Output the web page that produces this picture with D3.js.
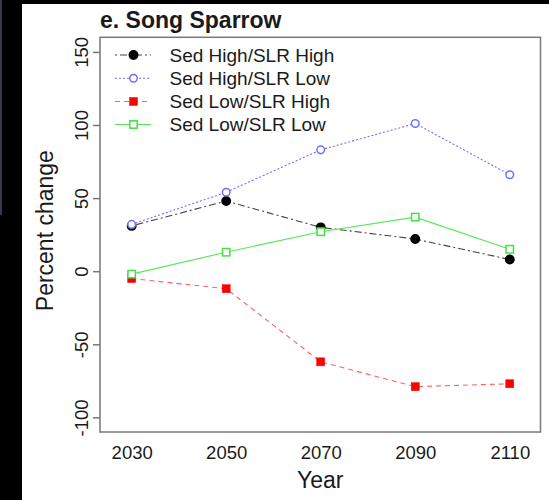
<!DOCTYPE html>
<html><head><meta charset="utf-8">
<script src="https://cdn.jsdelivr.net/npm/d3@7"></script>
<style>body{margin:0;background:#000;}svg{display:block;}text{font-family:"Liberation Sans",Arial,sans-serif;fill:#1a1a1a;}</style>
</head><body>
<script>
const years = [2030, 2050, 2070, 2090, 2110];
const seriesNames = ["Sed High/SLR High", "Sed High/SLR Low", "Sed Low/SLR High", "Sed Low/SLR Low"];
const sedHighSlrHigh = [31, 48, 30, 22, 8];
const sedHighSlrLow = [32, 54, 83, 101, 66];
const sedLowSlrHigh = [-5, -12, -62, -79, -77];
const sedLowSlrLow = [-2, 13, 27, 37, 15];
const yTicks = [-100, -50, 0, 50, 100, 150];
const titleText = "e. Song Sparrow";

(function () {
const W = 549, H = 500;
const svg = d3.select("body").append("svg").attr("width", W).attr("height", H);
svg.append("rect").attr("width", W).attr("height", H).attr("fill", "#000");
svg.append("rect").attr("x", 0).attr("y", 0).attr("width", 2).attr("height", 215).attr("fill", "#3c3550");
svg.append("rect").attr("x", 22).attr("y", 4).attr("width", W - 22).attr("height", H - 4).attr("fill", "#fff");

const pL = 100, pR = 540.5, pT = 37.3, pB = 432;
const x = d3.scaleLinear().domain([2023.3, 2116.5]).range([pL, pR]);
const y = d3.scaleLinear().domain([-110, 160]).range([pB, pT]);

const styles = [
  {data: sedHighSlrHigh, line: "#444", dash: "2,3,7,3", sym: "circle", fill: "#000", stroke: "#000"},
  {data: sedHighSlrLow, line: "#6f6fff", dash: "2,2", sym: "circle", fill: "#fff", stroke: "#6f6fff"},
  {data: sedLowSlrHigh, line: "#ff6060", dash: "5,4", sym: "square", fill: "#ff0000", stroke: "#ff0000"},
  {data: sedLowSlrLow, line: "#55e855", dash: null, sym: "square", fill: "#fff", stroke: "#44e044"}
];

function drawSym(g, s, cx, cy) {
  const filled = s.fill !== "#fff";
  if (s.sym === "circle") {
    g.append("circle").attr("cx", cx).attr("cy", cy).attr("r", filled ? 4.2 : 3.8)
      .attr("fill", s.fill).attr("stroke", s.stroke).attr("stroke-width", 1.5);
  } else {
    const a = filled ? 8 : 7.4;
    g.append("rect").attr("x", cx - a / 2).attr("y", cy - a / 2).attr("width", a).attr("height", a)
      .attr("fill", s.fill).attr("stroke", s.stroke).attr("stroke-width", filled ? 0.5 : 1.5);
  }
}

const plot = svg.append("g");
const line = d3.line().x((d, i) => x(years[i])).y(d => y(d));
styles.forEach(s => {
  plot.append("path").attr("d", line(s.data)).attr("fill", "none").attr("stroke", s.line)
    .attr("stroke-width", 1.1).attr("stroke-dasharray", s.dash);
});
styles.forEach(s => {
  s.data.forEach((v, i) => drawSym(plot, s, x(years[i]), y(v)));
});

svg.append("rect").attr("x", pL).attr("y", pT).attr("width", pR - pL).attr("height", pB - pT)
  .attr("fill", "none").attr("stroke", "#777").attr("stroke-width", 1.5);

const yAxis = d3.axisLeft(y).tickValues(yTicks).tickSize(7).tickPadding(0).tickFormat(d => String(d));
const ya = svg.append("g").attr("transform", `translate(${pL},0)`).call(yAxis);
ya.select(".domain").remove();
ya.selectAll(".tick line").attr("stroke", "#777").attr("stroke-width", 1.5);
ya.selectAll(".tick text").attr("font-size", 18.5).attr("text-anchor", "middle")
  .attr("dy", 0).attr("transform", "rotate(-90)").attr("x", 0).attr("y", -12);

const xAxis = d3.axisBottom(x).tickValues(years).tickSize(0).tickPadding(0).tickFormat(d => String(d));
const xa = svg.append("g").attr("transform", `translate(0,${pB})`).call(xAxis);
xa.select(".domain").remove();
xa.selectAll(".tick text").attr("font-size", 18.5).attr("dy", 0).attr("y", 27);

svg.append("text").attr("x", (pL + pR) / 2).attr("y", 488).attr("text-anchor", "middle")
  .attr("font-size", 23).text("Year");
svg.append("text").attr("transform", `translate(52.5,${(pT + pB) / 2 - 4}) rotate(-90)`)
  .attr("text-anchor", "middle").attr("font-size", 23).text("Percent change");

svg.append("text").attr("x", pL).attr("y", 27.5).attr("font-size", 23).attr("font-weight", "bold").text(titleText);

const lg = svg.append("g");
const rowY = [55, 78.3, 101.5, 124.5];
styles.forEach((s, i) => {
  lg.append("line").attr("x1", 115).attr("x2", 151).attr("y1", rowY[i]).attr("y2", rowY[i])
    .attr("stroke", s.line).attr("stroke-width", 1.1).attr("stroke-dasharray", s.dash);
  drawSym(lg, s, 133.5, rowY[i]);
  lg.append("text").attr("x", 169.5).attr("y", rowY[i] + 6.8).attr("font-size", 19).text(seriesNames[i]);
});
})();
</script>
</body></html>
